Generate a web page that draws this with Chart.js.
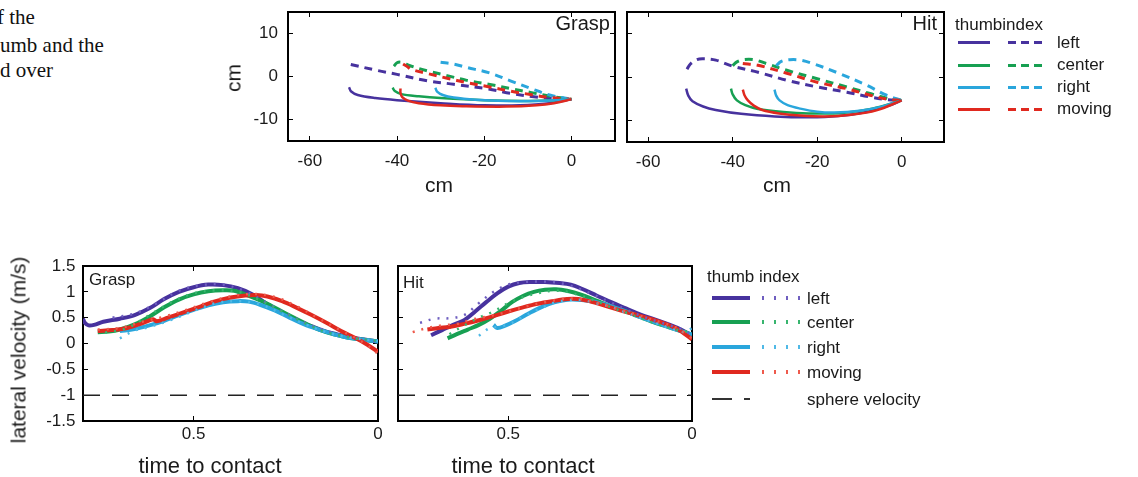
<!DOCTYPE html>
<html>
<head>
<meta charset="utf-8">
<title>thumb and index trajectories</title>
<script src="https://cdn.jsdelivr.net/npm/chart.js@4.4.1/dist/chart.umd.min.js"></script>
<style>
  body { margin: 0; width: 1138px; height: 477px; position: relative; overflow: hidden; background: #fff;
         font-family: "Liberation Sans", Arial, Helvetica, sans-serif; color: #1a1a1a; }
  canvas { position: absolute; }
  .t { position: absolute; white-space: nowrap; }
  .cap { font-family: "Liberation Serif", "Times New Roman", serif; font-size: 21px; line-height: 21px; color: #111; }
  .ax { font-size: 21px; line-height: 21px; }
  .ax22 { font-size: 22px; line-height: 22px; }
  .lab { font-size: 17px; line-height: 17px; }
  .sw { position: absolute; }
</style>
</head>
<body>
<!-- clipped caption text from the page -->
<div class="t cap" style="left:-3px;top:7px">f the</div>
<div class="t cap" style="left:0;top:35px">umb and the</div>
<div class="t cap" style="left:0;top:60px">d over</div>

<canvas id="graspPath" width="417" height="209" style="left:228px;top:-18px"></canvas>
<canvas id="hitPath" width="407" height="210" style="left:567px;top:-18px"></canvas>
<canvas id="graspVel" width="385" height="235" style="left:23px;top:236px"></canvas>
<canvas id="hitVel" width="384" height="235" style="left:338px;top:236px"></canvas>

<!-- axis titles and panel labels -->
<div class="t ax" style="left:233px;top:78px;transform:translate(-50%,-50%) rotate(-90deg)">cm</div>
<div class="t ax" style="left:439px;top:174px;transform:translateX(-50%)">cm</div>
<div class="t ax" style="left:777px;top:174px;transform:translateX(-50%)">cm</div>
<div class="t ax" style="left:18px;top:350px;transform:translate(-50%,-50%) rotate(-90deg)">lateral velocity (m/s)</div>
<div class="t ax22" style="left:210px;top:455px;transform:translateX(-50%)">time to contact</div>
<div class="t ax22" style="left:523px;top:455px;transform:translateX(-50%)">time to contact</div>
<div class="t" style="font-size:20px;line-height:20px;right:528px;top:13px">Grasp</div>
<div class="t" style="font-size:20px;line-height:20px;right:201px;top:13px">Hit</div>
<div class="t lab" style="left:89px;top:271px">Grasp</div>
<div class="t lab" style="left:403px;top:274px">Hit</div>

<div id="legends"></div>

<script>
// ---- trajectories, cm: [x, y]  (thumb = solid, index = dashed)
const cmTicksX = [-60, -40, -20, 0];
const cmTicksY = [-10, 0, 10];

const graspThumbLeft = [[-51,-2.5],[-50.5,-3.5],[-49,-4.3],[-45,-5.0],[-40,-5.5],[-30,-6.2],[-20,-6.7],[-10,-6.6],[-5,-6.2],[0,-5.3]];
const graspThumbCenter = [[-41,-2.6],[-40.5,-3.4],[-39,-4.1],[-35,-4.6],[-30,-5.0],[-20,-5.5],[-10,-5.7],[-5,-5.6],[0,-5.3]];
const graspThumbRight = [[-31.2,-2.6],[-30.8,-3.5],[-29.5,-4.3],[-27,-4.9],[-22,-5.4],[-15,-5.7],[-8,-5.7],[-3,-5.5],[0,-5.3]];
const graspThumbMoving = [[-39.2,-2.8],[-39.2,-3.8],[-38.8,-4.8],[-37.5,-5.6],[-35,-6.2],[-30,-6.7],[-25,-6.9],[-15,-7.0],[-8,-6.7],[-4,-6.2],[0,-5.3]];

const graspIndexLeft = [[-50.6,2.8],[-44.5,1.4],[-40,0.5],[-33,-1.0],[-27,-1.8],[-19,-2.9],[-14,-3.9],[-8.6,-4.7],[-3.3,-5.2],[0,-5.3]];
const graspIndexCenter = [[-40.7,2.4],[-40,3.2],[-39,3.3],[-37,2.5],[-33,1.3],[-28.5,0.2],[-24,-0.9],[-19,-1.8],[-14,-2.8],[-9.4,-3.7],[-4.8,-4.6],[0,-5.3]];
const graspIndexRight = [[-30,3.3],[-27,2.9],[-24,2.1],[-19,0.9],[-14,-1.0],[-9,-2.9],[-5,-4.3],[0,-5.3]];
const graspIndexMoving = [[-38.6,2.9],[-37.5,2.2],[-36.9,1.7],[-33,0.7],[-28.5,-0.4],[-24,-1.4],[-19,-2.4],[-14,-3.4],[-9.4,-4.2],[-4.8,-4.9],[0,-5.3]];

const hitThumbLeft = [[-51,-2.7],[-50.5,-4.3],[-49.5,-5.6],[-47,-6.8],[-44,-7.6],[-38,-8.5],[-30,-9.1],[-22,-9.3],[-15,-9.0],[-8,-8.0],[-3,-6.6],[0,-5.4]];
const hitThumbCenter = [[-40.4,-2.7],[-40,-4.0],[-39,-5.4],[-37,-6.5],[-34,-7.4],[-28,-8.1],[-22,-8.4],[-14,-8.3],[-7,-7.3],[0,-5.4]];
const hitThumbRight = [[-30.1,-2.9],[-29.7,-4.3],[-28.9,-5.4],[-27,-6.5],[-24,-7.3],[-20,-8.0],[-16,-8.2],[-10,-7.8],[-5,-6.9],[0,-5.4]];
const hitThumbMoving = [[-37.6,-2.9],[-37.2,-4.2],[-36.4,-5.4],[-35,-6.6],[-33,-7.6],[-29,-8.4],[-24,-8.9],[-18,-9.1],[-12,-8.7],[-6,-7.7],[0,-5.4]];

const hitIndexLeft = [[-50.8,1.8],[-50,3.0],[-48.5,4.0],[-47,4.2],[-44,3.9],[-40,2.5],[-34,1.1],[-27,-0.8],[-20,-2.3],[-13,-3.5],[-7.5,-4.6],[-3.5,-5.2],[0,-5.4]];
const hitIndexCenter = [[-40,2.6],[-39,3.5],[-37.5,4.0],[-35,4.0],[-32,3.1],[-27,1.5],[-20,-0.4],[-13,-2.3],[-7.5,-3.8],[-3.5,-4.9],[0,-5.4]];
const hitIndexRight = [[-29.7,2.6],[-28.5,3.6],[-26.5,4.0],[-24,3.9],[-21,3.1],[-15,0.9],[-8.3,-1.9],[-3.6,-4.2],[0,-5.4]];
const hitIndexMoving = [[-37.6,3.1],[-34,2.7],[-27,0.8],[-20,-1.2],[-13,-2.7],[-7.5,-4.2],[-3.5,-5.1],[0,-5.4]];

// ---- lateral velocity, m/s: [time to contact, v]  (solid = thumb, dotted = index)
const timeTicks = [0.5, 0];
const velTicks = [-1.5, -1, -0.5, 0, 0.5, 1, 1.5];
const sphereVelocity = [[0.8, -1], [0, -1]];

const graspVelLeft = [[0.80,0.48],[0.795,0.40],[0.785,0.35],[0.77,0.36],[0.745,0.42],[0.70,0.48],[0.66,0.55],[0.62,0.68],[0.58,0.86],[0.54,1.00],[0.50,1.09],[0.46,1.14],[0.42,1.13],[0.38,1.07],[0.34,0.95],[0.30,0.76],[0.26,0.60],[0.22,0.45],[0.18,0.33],[0.14,0.23],[0.10,0.16],[0.06,0.10],[0.0,0.04]];
const graspVelCenter = [[0.76,0.22],[0.73,0.23],[0.70,0.27],[0.66,0.37],[0.62,0.52],[0.58,0.70],[0.54,0.85],[0.50,0.95],[0.46,1.01],[0.42,1.03],[0.39,1.02],[0.35,0.92],[0.30,0.77],[0.25,0.58],[0.20,0.40],[0.16,0.27],[0.12,0.18],[0.07,0.10],[0.0,0.04]];
const graspVelRight = [[0.70,0.24],[0.66,0.28],[0.62,0.35],[0.58,0.44],[0.54,0.55],[0.50,0.65],[0.46,0.74],[0.42,0.80],[0.38,0.82],[0.35,0.81],[0.32,0.75],[0.28,0.64],[0.24,0.50],[0.20,0.37],[0.16,0.27],[0.12,0.18],[0.07,0.10],[0.0,0.04]];
const graspVelMoving = [[0.76,0.24],[0.72,0.26],[0.68,0.30],[0.64,0.39],[0.61,0.47],[0.60,0.43],[0.57,0.50],[0.52,0.62],[0.48,0.72],[0.44,0.82],[0.40,0.89],[0.36,0.93],[0.33,0.94],[0.30,0.91],[0.26,0.82],[0.22,0.69],[0.18,0.55],[0.14,0.40],[0.10,0.24],[0.06,0.10],[0.03,-0.02],[0.0,-0.16]];

const graspDotLeft = [[0.72,0.50],[0.66,0.58],[0.60,0.78],[0.54,1.02],[0.48,1.13],[0.42,1.14],[0.36,1.01],[0.30,0.78],[0.24,0.55],[0.18,0.35],[0.12,0.20],[0.06,0.10],[0.0,0.03]];
const graspDotCenter = [[0.74,0.21],[0.68,0.30],[0.62,0.55],[0.56,0.80],[0.50,0.97],[0.44,1.03],[0.38,1.00],[0.32,0.84],[0.26,0.62],[0.20,0.40],[0.14,0.22],[0.08,0.12],[0.0,0.05]];
const graspDotRight = [[0.70,0.10],[0.66,0.25],[0.62,0.32],[0.56,0.46],[0.50,0.63],[0.44,0.78],[0.38,0.82],[0.32,0.76],[0.26,0.57],[0.20,0.38],[0.14,0.22],[0.08,0.12],[0.0,0.05]];
const graspDotMoving = [[0.76,0.27],[0.70,0.30],[0.64,0.42],[0.58,0.52],[0.52,0.65],[0.46,0.80],[0.40,0.91],[0.34,0.96],[0.28,0.90],[0.22,0.72],[0.16,0.48],[0.10,0.25],[0.04,0.02],[0.0,-0.2]];

const hitVelLeft = [[0.71,0.16],[0.68,0.26],[0.65,0.36],[0.62,0.45],[0.59,0.62],[0.56,0.80],[0.53,0.97],[0.50,1.10],[0.47,1.17],[0.44,1.19],[0.40,1.19],[0.36,1.17],[0.33,1.14],[0.30,1.06],[0.26,0.93],[0.22,0.80],[0.18,0.68],[0.14,0.56],[0.10,0.46],[0.06,0.36],[0.03,0.27],[0.0,0.15]];
const hitVelCenter = [[0.665,0.10],[0.64,0.18],[0.61,0.27],[0.58,0.36],[0.55,0.48],[0.52,0.63],[0.49,0.80],[0.46,0.92],[0.43,1.00],[0.40,1.04],[0.37,1.05],[0.34,1.02],[0.30,0.94],[0.26,0.83],[0.22,0.72],[0.18,0.62],[0.14,0.51],[0.10,0.40],[0.06,0.31],[0.0,0.17]];
const hitVelRight = [[0.54,0.36],[0.53,0.30],[0.51,0.34],[0.48,0.44],[0.45,0.56],[0.42,0.67],[0.39,0.76],[0.36,0.82],[0.33,0.85],[0.30,0.84],[0.26,0.80],[0.22,0.72],[0.18,0.62],[0.14,0.51],[0.10,0.41],[0.06,0.31],[0.0,0.17]];
const hitVelMoving = [[0.72,0.27],[0.69,0.30],[0.66,0.32],[0.62,0.38],[0.58,0.45],[0.54,0.53],[0.50,0.62],[0.46,0.70],[0.42,0.77],[0.38,0.82],[0.34,0.86],[0.31,0.86],[0.28,0.82],[0.24,0.74],[0.20,0.65],[0.16,0.57],[0.12,0.49],[0.08,0.40],[0.04,0.28],[0.0,0.08]];

const hitDotLeft = [[0.74,0.40],[0.70,0.48],[0.66,0.49],[0.62,0.55],[0.58,0.78],[0.54,1.00],[0.50,1.14],[0.46,1.19],[0.42,1.20],[0.38,1.19],[0.34,1.14],[0.30,1.04],[0.26,0.92],[0.22,0.79],[0.18,0.66],[0.14,0.54],[0.10,0.44],[0.06,0.35],[0.02,0.25],[0.0,0.15]];
const hitDotCenter = [[0.66,0.18],[0.62,0.35],[0.58,0.50],[0.54,0.62],[0.50,0.78],[0.46,0.90],[0.42,0.97],[0.38,1.02],[0.34,1.00],[0.30,0.92],[0.26,0.82],[0.22,0.70],[0.18,0.60],[0.14,0.49],[0.10,0.39],[0.06,0.30],[0.03,0.25],[0.0,0.22]];
const hitDotRight = [[0.58,0.15],[0.55,0.30],[0.52,0.33],[0.49,0.40],[0.46,0.52],[0.43,0.62],[0.40,0.72],[0.37,0.80],[0.34,0.84],[0.30,0.84],[0.26,0.78],[0.22,0.71],[0.18,0.60],[0.14,0.50],[0.10,0.40],[0.06,0.30],[0.02,0.22],[0.0,0.30]];
const hitDotMoving = [[0.76,0.22],[0.72,0.30],[0.68,0.35],[0.64,0.38],[0.60,0.46],[0.56,0.52],[0.52,0.58],[0.48,0.66],[0.44,0.74],[0.40,0.80],[0.36,0.85],[0.32,0.87],[0.28,0.83],[0.24,0.75],[0.20,0.66],[0.16,0.58],[0.12,0.49],[0.08,0.40],[0.04,0.30],[0.0,0.10]];

const conditions = ['left', 'center', 'right', 'moving'];
const colors = { left: '#47329e', center: '#17a052', right: '#2aa6dc', moving: '#e0291f' };
const dotColors = { left: '#6f5fc0', center: '#38b56e', right: '#4fb9e6', moving: '#ee5a4c' };
const FONT = '"Liberation Sans", Arial, Helvetica, sans-serif';

function pts(arr) {
    return arr.map(p => ({ x: p[0], y: p[1] }));
}

function line(arr, color, width, dash, order) {
    return {
        data: pts(arr),
        showLine: true,
        borderColor: color,
        backgroundColor: color,
        borderWidth: width,
        borderDash: dash,
        pointRadius: 0,
        tension: 0.35,
        order: order
    };
}

// boxed axes with inward ticks on all four sides (matlab look)
function frameScales(o) {
    const grid = () => ({ display: true, drawOnChartArea: false, drawTicks: true, tickLength: -5, color: '#000', lineWidth: 1 });
    const border = () => ({ display: true, color: '#000', width: 2 });
    const fix = vals => scale => { scale.ticks = vals.map(v => ({ value: v })); };
    const tickFont = { family: FONT, size: 17 };
    const base = (min, max, vals, reverse) => ({
        type: 'linear', min: min, max: max, reverse: !!reverse,
        grid: grid(), border: border(), afterBuildTicks: fix(vals)
    });
    return {
        x: Object.assign(base(o.xMin, o.xMax, o.xTicks, o.xReverse), {
            position: 'bottom',
            ticks: { font: tickFont, color: '#1a1a1a', padding: o.xPad, maxRotation: 0, callback: v => String(v) },
            afterFit: s => { s.height = 50; }
        }),
        x2: Object.assign(base(o.xMin, o.xMax, o.xTicks, o.xReverse), {
            position: 'top', ticks: { display: false },
            afterFit: s => { s.height = 0; }
        }),
        y: Object.assign(base(o.yMin, o.yMax, o.yTicks, false), {
            position: 'left',
            ticks: { display: o.yLabels, font: tickFont, color: '#1a1a1a', padding: o.yPad, callback: v => String(v) },
            afterFit: s => { s.width = 60; }
        }),
        y2: Object.assign(base(o.yMin, o.yMax, o.yTicks, false), {
            position: 'right', ticks: { display: false },
            afterFit: s => { s.width = 0; }
        })
    };
}

function makeChart(id, datasets, scaleOpts) {
    return new Chart(document.getElementById(id), {
        type: 'scatter',
        data: { datasets: datasets },
        options: {
            responsive: false,
            animation: false,
            events: [],
            layout: { padding: { top: 30, right: 30, bottom: 0, left: 0 } },
            plugins: { legend: { display: false }, tooltip: { enabled: false } },
            scales: frameScales(scaleOpts)
        }
    });
}

function pathSets(thumb, index) {
    const sets = [];
    conditions.forEach((c, i) => {
        sets.push(line(index[i], colors[c], 3, [8, 6], 8 - i));
        sets.push(line(thumb[i], colors[c], 2.5, [], 4 - i));
    });
    return sets;
}

function velSets(solid, dotted) {
    const sets = [line(sphereVelocity, '#222', 1.5, [17, 12], 10)];
    sets[0].tension = 0;
    conditions.forEach((c, i) => {
        sets.push(line(solid[i], colors[c], 4, [], 8 - i));
        sets.push(line(dotted[i], dotColors[c], 2.5, [2, 7], 4 - i));
    });
    return sets;
}

const pathScale = (yLabels) => ({
    xMin: -65, xMax: 10, xTicks: cmTicksX, xPad: 15,
    yMin: -15, yMax: 15, yTicks: cmTicksY, yPad: 15, yLabels: yLabels
});
const velScale = (yLabels) => ({
    xMin: 0, xMax: 0.8, xTicks: timeTicks, xReverse: true, xPad: 8,
    yMin: -1.5, yMax: 1.5, yTicks: velTicks, yPad: 12.5, yLabels: yLabels
});

makeChart('graspPath',
    pathSets([graspThumbLeft, graspThumbCenter, graspThumbRight, graspThumbMoving],
             [graspIndexLeft, graspIndexCenter, graspIndexRight, graspIndexMoving]),
    pathScale(true));
makeChart('hitPath',
    pathSets([hitThumbLeft, hitThumbCenter, hitThumbRight, hitThumbMoving],
             [hitIndexLeft, hitIndexCenter, hitIndexRight, hitIndexMoving]),
    pathScale(false));
makeChart('graspVel',
    velSets([graspVelLeft, graspVelCenter, graspVelRight, graspVelMoving],
            [graspDotLeft, graspDotCenter, graspDotRight, graspDotMoving]),
    velScale(true));
makeChart('hitVel',
    velSets([hitVelLeft, hitVelCenter, hitVelRight, hitVelMoving],
            [hitDotLeft, hitDotCenter, hitDotRight, hitDotMoving]),
    velScale(false));

// ---- html legends
const legends = document.getElementById('legends');
function add(cls, style, text) {
    const d = document.createElement('div');
    d.className = cls;
    d.style.cssText = style;
    if (text) d.textContent = text;
    legends.appendChild(d);
}

add('t lab', 'left:955px;top:16px', 'thumbindex');
[42.7, 65, 87.3, 109.3].forEach((cy, i) => {
    const c = colors[conditions[i]];
    add('sw', `left:958px;top:${cy - 1.5}px;width:32px;height:3px;background:${c}`);
    add('sw', `left:1008px;top:${cy - 1.5}px;width:36px;height:3px;background:repeating-linear-gradient(to right,${c} 0 8px,transparent 8px 13px)`);
    add('t lab', `left:1057px;top:${cy - 9}px`, conditions[i]);
});

add('t lab', 'left:707px;top:268px', 'thumb index');
[297.7, 321.7, 347, 371.7].forEach((cy, i) => {
    const c = conditions[i];
    add('sw', `left:712px;top:${cy - 2}px;width:38px;height:4px;background:${colors[c]}`);
    add('sw', `left:762px;top:${cy - 2}px;width:40px;height:4px;background:repeating-linear-gradient(to right,${dotColors[c]} 0 2px,transparent 2px 12px)`);
    add('t lab', `left:807px;top:${cy - 8}px`, c);
});
add('sw', 'left:712px;top:398px;width:20px;height:1.5px;background:#333');
add('sw', 'left:744px;top:398px;width:6px;height:1.5px;background:#333');
add('t lab', 'left:807px;top:391px', 'sphere velocity');
</script>
</body>
</html>
